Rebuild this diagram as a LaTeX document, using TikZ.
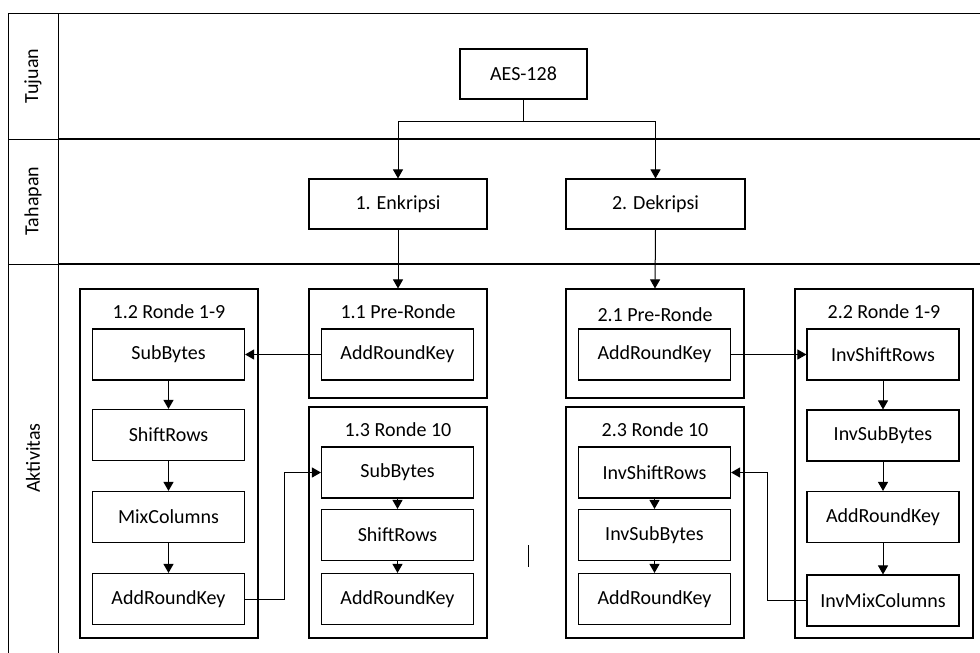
\documentclass[tikz,border=0pt]{standalone}
\usepackage{fontspec}
\setmainfont{Carlito}
\usetikzlibrary{arrows.meta}

\def\xunit{1pt}
\def\yunit{-1pt}

\tikzset{
  proc/.style={draw, line width=1.1pt, minimum width=152, minimum height=51, inner sep=0pt},
  group/.style={draw, line width=1.1pt, minimum width=178, inner sep=0pt},
  arr/.style={line width=1pt, -{Triangle[length=9pt, width=10pt]}},
  lane/.style={line width=1.8pt},
}

\begin{document}
\begin{tikzpicture}[x=\xunit, y=\yunit, font=\fontsize{20}{24}\selectfont]
\useasboundingbox (0,0) rectangle (980,653);

% ---- swimlane frame ----
\draw[line width=0.9pt] (8,653) -- (8,13) -- (980,13);
\draw[line width=0.9pt] (58,13) -- (58,653);
\draw[line width=0.9pt] (8,139) -- (58,139);
\draw[line width=0.9pt] (8,264) -- (58,264);
\draw[lane] (58,139) -- (980,139);
\draw[lane] (58,264) -- (980,264);
\node[rotate=90] (tujuan) at (33,76) {Tujuan};
\node[rotate=90] (tahapan) at (33,201) {Tahapan};
\node[rotate=90] (aktivitas) at (33,458) {Aktivitas};

% ---- goal and stages ----
\node[proc, minimum width=127, minimum height=50] (aes) at (523.5,74) {AES-128};
\node[proc, minimum width=178, minimum height=50] (enc) at (398,204) {1. Enkripsi};
\node[proc, minimum width=179, minimum height=50] (dec) at (655.5,204) {2. Dekripsi};
\coordinate (split) at (aes.south |- 0,121);
\draw[arr] (aes.south) -- (split) -| (enc.north);
\draw[arr] (split) -| (dec.north);

% ---- 1. Enkripsi: groups (x 80--258, 309--487) ----
\node[group, minimum height=349] (g12) at (169,463.5) {};
\node[group, minimum height=109] (g11) at (398,343.5) {};
\node[group, minimum height=231] (g13) at (398,522.5) {};
\node (t12) at (169,312) {1.2 Ronde 1-9};
\node (t11) at (398,312) {1.1 Pre-Ronde};
\node (t13) at (398,430) {1.3 Ronde 10};

\node[proc] (ark11) at (397.5,354.5) {AddRoundKey};
\node[proc] (sub12) at (168.5,354.5) {SubBytes};
\node[proc] (shr12) at (168.5,435) {ShiftRows};
\node[proc] (mix12) at (168.5,517) {MixColumns};
\node[proc] (ark12) at (168.5,599) {AddRoundKey};
\node[proc] (sub13) at (397.5,472.5) {SubBytes};
\node[proc] (shr13) at (397.5,535) {ShiftRows};
\node[proc] (ark13) at (397.5,599) {AddRoundKey};

% ---- 2. Dekripsi: groups (x 566--744, 795--973) ----
\node[group, minimum height=109] (g21) at (655,343.5) {};
\node[group, minimum height=231] (g23) at (655,522.5) {};
\node[group, minimum height=349] (g22) at (884,463.5) {};
\node (t21) at (655,315) {2.1 Pre-Ronde};
\node (t23) at (655,430) {2.3 Ronde 10};
\node (t22) at (884,312) {2.2 Ronde 1-9};

\node[proc] (ark21) at (654.5,354.5) {AddRoundKey};
\node[proc] (ish22) at (883,354.5) {InvShiftRows};
\node[proc] (isb22) at (883,435.5) {InvSubBytes};
\node[proc] (ark22) at (883,517) {AddRoundKey};
\node[proc] (imc22) at (883,600.5) {InvMixColumns};
\node[proc] (ish23) at (654.5,472.5) {InvShiftRows};
\node[proc] (isb23) at (654.5,535) {InvSubBytes};
\node[proc] (ark23) at (654.5,599) {AddRoundKey};

% ---- links ----
\draw[arr] (enc.south) -- (g11.north);
\draw[arr] (dec.south) -- (g21.north);
\draw[arr] (ark11.west) -- (sub12.east);
\draw[arr] (sub12) -- (shr12);
\draw[arr] (shr12) -- (mix12);
\draw[arr] (mix12) -- (ark12);
\draw[arr] (ark12.east) -- ++(39,0) |- (sub13.west);
\draw[arr] (sub13) -- (shr13);
\draw[arr] (shr13) -- (ark13);
\draw[arr] (ark21.east) -- (ish22.west);
\draw[arr] (ish22) -- (isb22);
\draw[arr] (isb22) -- (ark22);
\draw[arr] (ark22) -- (imc22);
\draw[arr] (imc22.west) -- ++(-39,0) |- (ish23.east);
\draw[arr] (ish23) -- (isb23);
\draw[arr] (isb23) -- (ark23);

% stray mark
\draw[line width=1pt] (528,545) -- (528,567);

\end{tikzpicture}
\end{document}
